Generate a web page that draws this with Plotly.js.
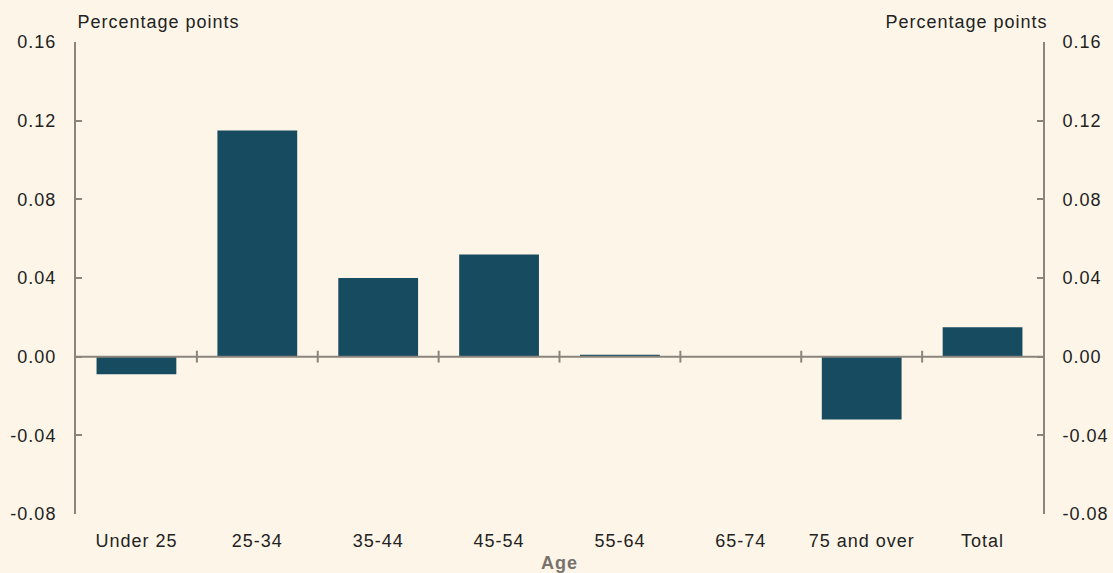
<!DOCTYPE html>
<html><head><meta charset="utf-8">
<script src="https://cdn.plot.ly/plotly-3.0.1.min.js"></script>
<style>html,body{margin:0;padding:0;background:#FDF6E8;}
#chart svg text{letter-spacing:1px;}</style>
</head><body><div id="chart" style="width:1113px;height:573px;"></div>
<script>
const categories = ["Under 25","25-34","35-44","45-54","55-64","65-74","75 and over","Total"];
const values = [-0.009, 0.115, 0.040, 0.052, 0.001, 0.0, -0.032, 0.015];
const tickVals = [-0.08,-0.04,0,0.04,0.08,0.12,0.16];
const tickText = ["-0.08","-0.04","0.00","0.04","0.08","0.12","0.16"];
const yRange = [-0.08, 0.16];

const axisColor = "#8A847C";
const font = {family:"Liberation Sans, Arial, sans-serif", size:18, color:"#222"};

const idx = categories.map((c,i)=>i);
const traces = [
  {type:"bar", x:idx, y:values, marker:{color:"#174B5F"}, width:0.66, hoverinfo:"skip", showlegend:false},
  {type:"scatter", x:[idx[0]], y:[0], yaxis:"y2", mode:"markers", marker:{opacity:0}, hoverinfo:"skip", showlegend:false}
];

const shapes = [{type:"line", xref:"x", yref:"y", x0:-0.5, x1:categories.length-0.5, y0:0, y1:0, line:{color:axisColor, width:2}, layer:"above"}];
for (let i=0;i<categories.length-1;i++){
  shapes.push({type:"line", xref:"x", yref:"y", x0:i+0.5, x1:i+0.5, y0:-0.003, y1:0.003, line:{color:axisColor, width:2}, layer:"above"});
}

const yCommon = {range:yRange, tickvals:tickVals, ticktext:tickText, ticks:"inside", ticklen:6, tickwidth:2, tickcolor:axisColor,
  showline:true, linecolor:axisColor, linewidth:2, showgrid:false, zeroline:false, tickfont:font, ticklabelstandoff:14, fixedrange:true};

const layout = {
  width:1113, height:573,
  margin:{l:76, r:70, t:42, b:59},
  paper_bgcolor:"#FDF6E8", plot_bgcolor:"#FDF6E8",
  font:font,
  bargap:0.34,
  xaxis:{range:[-0.5, categories.length-0.5], tickvals:idx, ticktext:categories, showline:false, showgrid:false, zeroline:false,
    ticks:"", tickfont:font, ticklabelstandoff:14,
    title:{text:"<b>Age</b>", font:{family:"Liberation Sans, Arial, sans-serif", size:18, color:"#77726C"}, standoff:8}},
  yaxis:Object.assign({}, yCommon, {side:"left"}),
  yaxis2:Object.assign({}, yCommon, {side:"right", overlaying:"y"}),
  shapes:shapes,
  annotations:[
    {text:"Percentage points", xref:"paper", yref:"paper", x:0, y:1, xanchor:"left", yanchor:"bottom", yshift:8, xshift:8, showarrow:false, font:font},
    {text:"Percentage points", xref:"paper", yref:"paper", x:1, y:1, xanchor:"right", yanchor:"bottom", yshift:8, xshift:-2, showarrow:false, font:font}
  ]
};
Plotly.newPlot("chart", traces, layout, {staticPlot:true});
</script></body></html>
